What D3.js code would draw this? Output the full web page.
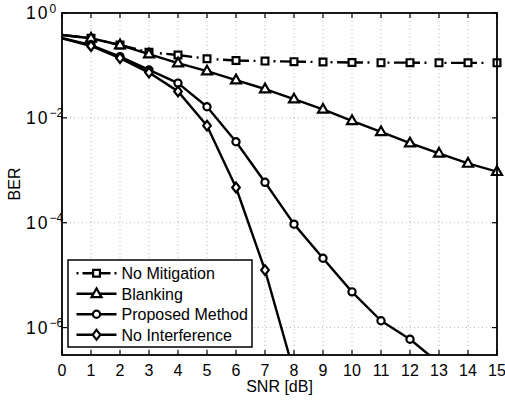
<!DOCTYPE html>
<html>
<head>
<meta charset="utf-8">
<script src="https://cdn.jsdelivr.net/npm/d3@7"></script>
<style>
  body { margin: 0; background: #fff; }
  text { font-family: "Liberation Sans", Arial, Helvetica, sans-serif; fill: #000; }
</style>
</head>
<body>
<svg id="chart" width="505" height="400"></svg>
<script>
// SNR axis (dB)
const snrDb = [0, 1, 2, 3, 4, 5, 6, 7, 8, 9, 10, 11, 12, 13, 14, 15];

// Bit error rate per scheme
const noMitigation   = [0.38, 0.33, 0.245, 0.178, 0.158, 0.134, 0.124, 0.121, 0.118, 0.116, 0.114, 0.113, 0.113, 0.112, 0.112, 0.112];
const blanking       = [0.38, 0.33, 0.245, 0.165, 0.111, 0.078, 0.0526, 0.0355, 0.0228, 0.0145, 0.0088, 0.0054, 0.0033, 0.0021, 0.00135, 0.00094];
const proposedMethod = [0.33, 0.245, 0.147, 0.082, 0.046, 0.0163, 0.0035, 5.9e-4, 9.4e-5, 2.1e-5, 4.8e-6, 1.35e-6, 6e-7, 2.1e-7];
const noInterference = [0.33, 0.235, 0.138, 0.073, 0.032, 0.0071, 4.7e-4, 1.25e-5, 1.4e-7];

const seriesNames = ["No Mitigation", "Blanking", "Proposed Method", "No Interference"];

// Axis ticks
const xTickValues = [0, 1, 2, 3, 4, 5, 6, 7, 8, 9, 10, 11, 12, 13, 14, 15];
const yTickExponents = [0, -2, -4, -6];

const svg = d3.select("#chart");
const x = d3.scaleLinear().domain([0, 15]).range([62, 497]);
const y = d3.scaleLog().domain([3e-7, 1]).range([355, 13]);
const [x0, x1] = x.range();
const [yB, yT] = y.range();

const series = [
  { name: seriesNames[0], values: noMitigation,   marker: "square",   dash: true },
  { name: seriesNames[1], values: blanking,       marker: "triangle", dash: false },
  { name: seriesNames[2], values: proposedMethod, marker: "circle",   dash: false },
  { name: seriesNames[3], values: noInterference, marker: "diamond",  dash: false }
];

const lineWidth = 2.4;
const markerStroke = 2.2;

// Marker shapes centred on the origin
function markerPath(type) {
  switch (type) {
    case "square":   return "M-3.4,-3.4H3.4V3.4H-3.4Z";
    case "triangle": return "M0,-5.4L5,3.3L-5,3.3Z";
    case "diamond":  return "M0,-4.9L3.8,0L0,4.9L-3.8,0Z";
    default:         return "";
  }
}

function drawMarker(g, type, cx, cy) {
  if (type === "circle") {
    g.append("circle").attr("cx", cx).attr("cy", cy).attr("r", 3.6)
      .attr("fill", "#fff").attr("stroke", "#000").attr("stroke-width", markerStroke);
  } else {
    g.append("path").attr("d", markerPath(type))
      .attr("transform", `translate(${cx},${cy})`)
      .attr("fill", "#fff").attr("stroke", "#000").attr("stroke-width", markerStroke)
      .attr("stroke-linejoin", "miter");
  }
}

// Clip region for the plotted lines
svg.append("defs").append("clipPath").attr("id", "plotClip")
  .append("rect").attr("x", x0).attr("y", yT).attr("width", x1 - x0).attr("height", yB - yT);

// Dotted grid
const grid = svg.append("g").attr("stroke", "#b4b4b4").attr("stroke-width", 1).attr("stroke-dasharray", "1,3");
xTickValues.filter(v => v > 0 && v < 15).forEach(v => {
  grid.append("line").attr("x1", x(v)).attr("x2", x(v)).attr("y1", yT).attr("y2", yB);
});
yTickExponents.filter(e => e !== 0).forEach(e => {
  grid.append("line").attr("x1", x0).attr("x2", x1).attr("y1", y(Math.pow(10, e))).attr("y2", y(Math.pow(10, e)));
});

// Dash-dot pattern for the unmitigated curve
const dashPattern = [26, 4.5, 2, 18, 2, 4.5];
const dashPeriod = d3.sum(dashPattern);

const line = d3.line().x((d, i) => x(snrDb[i])).y(d => y(d));
const lines = svg.append("g").attr("clip-path", "url(#plotClip)");
series.forEach(s => {
  const p = lines.append("path").datum(s.values)
    .attr("d", line)
    .attr("fill", "none").attr("stroke", "#000").attr("stroke-width", lineWidth)
    .attr("stroke-linejoin", "round");
  if (s.dash) {
    // centre a long dash on the 6 dB marker
    let len = 0;
    for (let i = 1; i <= 6; i++) {
      len += Math.hypot(x(snrDb[i]) - x(snrDb[i - 1]), y(s.values[i]) - y(s.values[i - 1]));
    }
    const start = len - dashPattern[0] / 2;
    const offset = (dashPeriod - (start % dashPeriod)) % dashPeriod;
    p.attr("stroke-dasharray", dashPattern.join(",")).attr("stroke-dashoffset", offset);
  }
});

// Markers (not at 0 dB)
const marks = svg.append("g");
series.forEach(s => {
  s.values.forEach((v, i) => {
    if (i === 0 || v < y.domain()[0]) return;
    drawMarker(marks, s.marker, x(snrDb[i]), y(v));
  });
});

// Axes box and ticks
const axes = svg.append("g").attr("stroke", "#000").attr("stroke-width", 1.8).attr("fill", "none");
axes.append("rect").attr("x", x0).attr("y", yT).attr("width", x1 - x0).attr("height", yB - yT);
const tickLen = 5;
xTickValues.forEach(v => {
  axes.append("line").attr("x1", x(v)).attr("x2", x(v)).attr("y1", yB).attr("y2", yB - tickLen).attr("stroke-width", 1.2);
  axes.append("line").attr("x1", x(v)).attr("x2", x(v)).attr("y1", yT).attr("y2", yT + tickLen).attr("stroke-width", 1.2);
});
yTickExponents.forEach(e => {
  const yy = y(Math.pow(10, e));
  axes.append("line").attr("x1", x0).attr("x2", x0 + tickLen).attr("y1", yy).attr("y2", yy).attr("stroke-width", 1.2);
  axes.append("line").attr("x1", x1).attr("x2", x1 - tickLen).attr("y1", yy).attr("y2", yy).attr("stroke-width", 1.2);
});

// Tick labels
const labels = svg.append("g");
xTickValues.forEach(v => {
  labels.append("text").attr("x", x(v)).attr("y", 375.5).attr("text-anchor", "middle")
    .style("font-size", "16px").text(v);
});
yTickExponents.forEach(e => {
  const yy = y(Math.pow(10, e));
  labels.append("text").attr("x", 26).attr("y", yy + 6.2).style("font-size", "17.5px")
    .attr("textLength", 21.5).attr("lengthAdjust", "spacing").text("10");
  labels.append("text").attr("x", 49.5).attr("y", yy - 0.5).style("font-size", "12px")
    .text(e === 0 ? "0" : "\u2212" + Math.abs(e));
});

// Axis titles
labels.append("text").attr("x", (x0 + x1) / 2).attr("y", 391.5).attr("text-anchor", "middle")
  .style("font-size", "16px").text("SNR [dB]");
labels.append("text").attr("transform", `translate(19.5,${(yT + yB) / 2}) rotate(-90)`)
  .attr("text-anchor", "middle").style("font-size", "16px").text("BER");

// Legend
const legend = svg.append("g");
legend.append("rect").attr("x", 68).attr("y", 260).attr("width", 184).attr("height", 87)
  .attr("fill", "#fff").attr("stroke", "#000").attr("stroke-width", 1.5);
series.forEach((s, i) => {
  const cy = 273.3 + i * 20.5;
  const l = legend.append("line").attr("x1", 76.5).attr("x2", 116.5).attr("y1", cy).attr("y2", cy)
    .attr("stroke", "#000").attr("stroke-width", lineWidth);
  if (s.dash) l.attr("stroke-dasharray", "2,4,28,4,2");
  drawMarker(legend, s.marker, 96.5, cy);
  legend.append("text").attr("x", 121.5).attr("y", cy + 5.8).style("font-size", "16px").text(s.name);
});
</script>
</body>
</html>
